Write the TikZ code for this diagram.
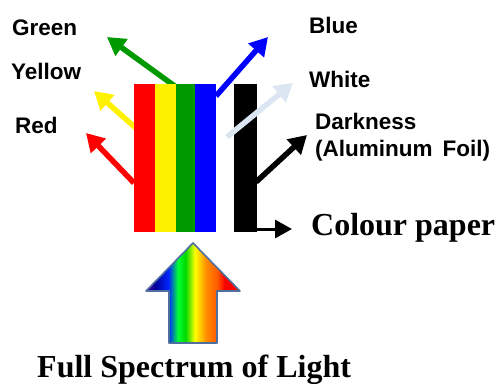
\documentclass[tikz,border=0pt]{standalone}
\usepackage{fontspec}
\setmainfont{Liberation Serif}
\setsansfont{Liberation Sans}
\usetikzlibrary{arrows.meta}

\definecolor{leafgreen}{RGB}{0,153,0}
\definecolor{paleblue}{RGB}{220,230,242}
\definecolor{rimblue}{RGB}{79,111,160}
\pgfdeclarehorizontalshading{spectrum}{100bp}{%
  color(0bp)=(violet!70!blue); color(25bp)=(violet!70!blue);
  color(30bp)=(blue!60!black); color(37bp)=(blue!85!cyan);
  color(42bp)=(green!80!cyan); color(46bp)=(green!85!black);
  color(51bp)=(yellow); color(57bp)=(orange!90!yellow);
  color(63bp)=(orange!70!red); color(67bp)=(red);
  color(75bp)=(red); color(100bp)=(red)}

\tikzset{
  label/.style={font=\sffamily\bfseries\fontsize{22.5}{27}\selectfont, inner sep=0pt, anchor=base west, align=left},
  title/.style={font=\rmfamily\bfseries\fontsize{32}{34}\selectfont, inner sep=0pt, anchor=base west},
  ray/.style={line width=5.5pt, -{Triangle[length=18pt, width=20pt]}},
}

\begin{document}
\begin{tikzpicture}[x=1pt, y=-1pt]
  \useasboundingbox (0,0) rectangle (498,383);
  % start points on the strips and free ends of the rays
  \coordinate (redout) at (134,183);    \coordinate (redtip) at (86,133);
  \coordinate (yelout) at (155,145);    \coordinate (yeltip) at (94,91);
  \coordinate (grnout) at (176,87);     \coordinate (grntip) at (107,37);
  \coordinate (bluout) at (216,96);     \coordinate (blutip) at (268,37);
  \coordinate (whtout) at (227,137);    \coordinate (whttip) at (293,83);
  \coordinate (drkout) at (256,182);    \coordinate (drktip) at (307,135);
  \coordinate (papout) at (256,229);
  % reflected light (behind the strips)
  \draw[ray, red] (redout) -- (redtip);
  \draw[ray, yellow] (yelout) -- (yeltip);
  \draw[ray, leafgreen] (grnout) -- (grntip);
  \draw[ray, blue] (bluout) -- (blutip);
  \draw[ray, black] (drkout) -- (drktip);
  % colour paper strips
  \fill[red] (134,84) rectangle (155,232);
  \fill[yellow] (155,84) rectangle (176,232);
  \fill[leafgreen] (176,84) rectangle (195,232);
  \fill[blue] (195,84) rectangle (216,232);
  \fill[black] (234,84) rectangle (257,232);
  \draw[ray, paleblue] (whtout) -- (whttip);
  % labels
  \node[label] (green) at (12,35) {Green};
  \node[label] (yellowlbl) at (11,79) {Yellow};
  \node[label] (redlbl) at (15,133) {Red};
  \node[label] (bluelbl) at (309,33) {Blue};
  \node[label] (white) at (309,87) {White};
  \node[label] (dark) at (315,156) {Darkness\\(Aluminum\, Foil)};
  \node[title] (paper) at (311,235) {Colour paper};
  \draw[line width=3pt, -{Triangle[length=17pt, width=18pt]}, shorten >=19pt]
    (papout) -- (papout -| paper.west);
  % incoming light
  \path[shading=spectrum, draw=rimblue, line width=1.6pt, line join=round]
    (193,243) -- (240,291) -- (217,291) -- (217,343) -- (169,343) -- (169,291) -- (146,291) -- cycle;
  \node[title] (light) at (37,377) {Full Spectrum of Light};
\end{tikzpicture}
\end{document}
